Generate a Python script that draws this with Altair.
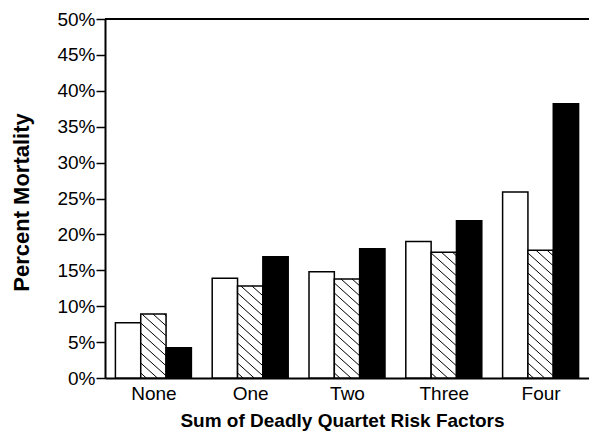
import altair as alt
import pandas as pd

# ---- data ----
categories = ["None", "One", "Two", "Three", "Four"]
series = ["Open", "Hatched", "Solid"]
open_values = [7.7, 13.9, 14.8, 19.0, 25.9]
hatched_values = [8.9, 12.8, 13.8, 17.5, 17.8]
solid_values = [4.2, 16.9, 18.0, 21.9, 38.2]
y_ticks = [0, 5, 10, 15, 20, 25, 30, 35, 40, 45, 50]

# ---- layout ----
W, H = 484, 359
Y_MAX = 50
GROUP = 0.785          # fraction of each category slot used by the 3 bars
BW = GROUP / 3

rows = []
for i, cat in enumerate(categories):
    for j, (s, vals) in enumerate(zip(series, [open_values, hatched_values, solid_values])):
        x0 = i + 0.5 + (j - 1.5) * BW
        rows.append(dict(category=cat, series=s, x0=x0, x1=x0 + BW, value=vals[i], base=0))
bars = pd.DataFrame(rows)

# hatch lines (style) derived from the hatched bars
sx = W / len(categories)
sy = H / Y_MAX
slope = 0.9
gap = 10.0
hrows = []
for _, r in bars[bars.series == "Hatched"].iterrows():
    w = BW * sx
    h = r.value * sy
    d0 = h - gap / 2
    while d0 > -slope * w:
        u0 = max(0.0, -d0 / slope)
        u1 = min(w, (h - d0) / slope)
        if u1 - u0 > 0.5:
            hrows.append(dict(
                hx=r.x0 + u0 / sx, hy=r.value - (d0 + slope * u0) / sy,
                hx2=r.x0 + u1 / sx, hy2=r.value - (d0 + slope * u1) / sy))
        d0 -= gap
hatch = pd.DataFrame(hrows)

label_expr = "[" + ",".join("'%s'" % c for c in categories) + "][floor(datum.value)]"

x_scale = alt.Scale(domain=[0, len(categories)], nice=False, zero=False)
y_scale = alt.Scale(domain=[0, Y_MAX], nice=False)

x_axis = alt.Axis(
    values=[i + 0.5 for i in range(len(categories))],
    labelExpr=label_expr, ticks=False, tickSize=0, grid=False,
    labelFontSize=19, labelPadding=6, labelColor="black", labelOverlap=False,
    domainColor="black", domainWidth=2,
    title="Sum of Deadly Quartet Risk Factors", titleFontSize=19,
    titleFontWeight="bold", titleColor="black",
    titleX=237, titleY=48, titleBaseline="alphabetic",
)
y_axis = alt.Axis(
    values=y_ticks, labelExpr="datum.value + '%'", grid=False,
    tickSize=9, tickWidth=1.5, tickColor="black",
    labelFontSize=19, labelPadding=1, labelColor="black", labelOverlap=False,
    domainColor="black", domainWidth=2,
    title="Percent Mortality", titleFontSize=22, titleFontWeight="bold",
    titleColor="black", titleX=-77, titleY=183, titleBaseline="alphabetic",
)

bar_layer = alt.Chart(bars).mark_bar(stroke="black", strokeWidth=1.5).encode(
    x=alt.X("x0:Q", scale=x_scale, axis=x_axis),
    x2="x1:Q",
    y=alt.Y("value:Q", scale=y_scale, axis=y_axis),
    y2="base:Q",
    fill=alt.Fill("series:N", scale=alt.Scale(domain=series, range=["white", "white", "black"]),
                  legend=None),
)

hatch_layer = alt.Chart(hatch).mark_rule(color="black", strokeWidth=1).encode(
    x=alt.X("hx:Q", scale=x_scale, axis=x_axis),
    x2="hx2:Q",
    y=alt.Y("hy:Q", scale=y_scale, axis=y_axis),
    y2="hy2:Q",
)

top_line = alt.Chart(pd.DataFrame({"top": [Y_MAX]})).mark_rule(color="black", strokeWidth=2).encode(
    y=alt.Y("top:Q", scale=y_scale, axis=y_axis),
)

chart = alt.layer(bar_layer, hatch_layer, top_line).properties(
    width=W, height=H,
    autosize=alt.AutoSizeParams(type="none"),
    padding={"left": 105, "top": 19, "right": 0, "bottom": 57},
    background="white",
).configure_axis(
    labelFont="Liberation Sans", titleFont="Liberation Sans",
).configure_view(stroke=None)

chart.save("out.html", embed_options={"renderer": "svg", "actions": False})
